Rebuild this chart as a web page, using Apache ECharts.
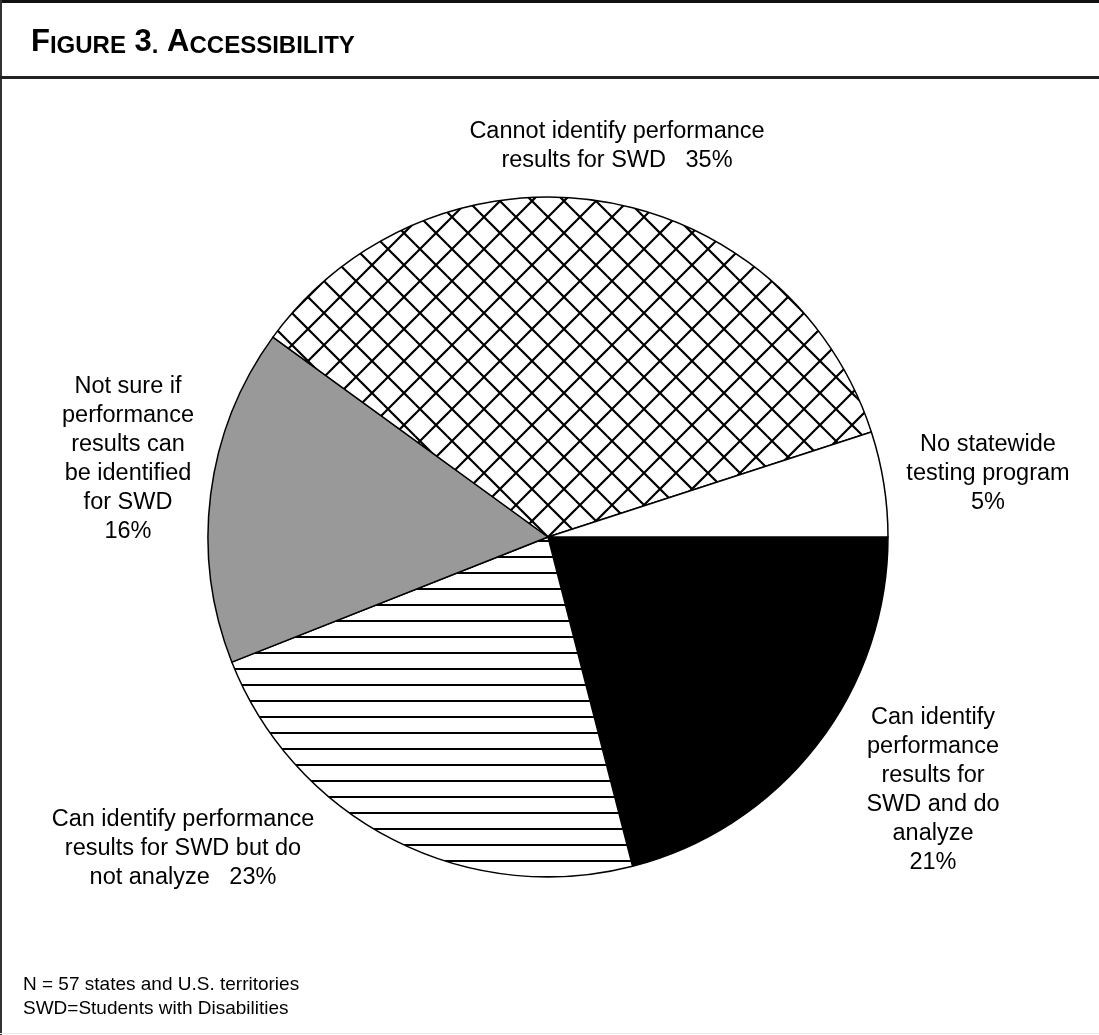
<!DOCTYPE html>
<html>
<head>
<meta charset="utf-8">
<script src="https://cdn.jsdelivr.net/npm/echarts@6/dist/echarts.min.js"></script>
<style>
html,body{margin:0;padding:0;background:#fff;}
#chart{width:1099px;height:1035px;}
</style>
</head>
<body>
<div id="chart"></div>
<script>
// ---- data ----
var categories = [
  'Can identify performance results for SWD and do analyze',
  'Can identify performance results for SWD but do not analyze',
  'Not sure if performance results can be identified for SWD',
  'Cannot identify performance results for SWD',
  'No statewide testing program'
];
var values = [21, 23, 16, 35, 5];
var labelTexts = [
  'Can identify\nperformance\nresults for\nSWD and do\nanalyze\n21%',
  'Can identify performance\nresults for SWD but do\nnot analyze   23%',
  'Not sure if\nperformance\nresults can\nbe identified\nfor SWD\n16%',
  'Cannot identify performance\nresults for SWD   35%',
  'No statewide\ntesting program\n5%'
];
var titleText = 'Figure 3. Accessibility';
var footnotes = ['N = 57 states and U.S. territories', 'SWD=Students with Disabilities'];

// ---- patterns ----
function crossHatch() {
  var s = 32, c = document.createElement('canvas');
  c.width = s; c.height = s;
  var g = c.getContext('2d');
  g.fillStyle = '#fff'; g.fillRect(0, 0, s, s);
  g.strokeStyle = '#000'; g.lineWidth = 2.2;
  for (var k = -2; k <= 2; k++) {
    g.beginPath(); g.moveTo(-10, -10 - 11 + k * s); g.lineTo(s + 10, s + 10 - 11 + k * s); g.stroke();
    g.beginPath(); g.moveTo(-10, 10 + 29 + k * s); g.lineTo(s + 10, -s - 10 + 29 + k * s); g.stroke();
  }
  return c;
}
function hStripes() {
  var s = 16, c = document.createElement('canvas');
  c.width = s; c.height = s;
  var g = c.getContext('2d');
  g.fillStyle = '#fff'; g.fillRect(0, 0, s, s);
  g.fillStyle = '#000'; g.fillRect(0, 12, s, 2);
  return c;
}
var fills = [
  '#000000',
  { image: hStripes(), repeat: 'repeat' },
  '#999999',
  { image: crossHatch(), repeat: 'repeat' },
  '#ffffff'
];
var labelPos = [
  [933, 790], [183, 849], [128, 459], [617, 146], [988, 474]
];

var chart = echarts.init(document.getElementById('chart'), null, { renderer: 'canvas' });

function smallCaps(str) {
  return str.split(' ').map(function (w) {
    var first = w.charAt(0).toUpperCase();
    var rest = w.slice(1).toUpperCase();
    return '{b|' + first + '}' + (rest ? '{s|' + rest + '}' : '');
  }).join('{b| }');
}

var option = {
  backgroundColor: '#ffffff',
  animation: false,
  title: {
    text: smallCaps(titleText),
    left: 26,
    top: 17,
    textStyle: {
      rich: {
        b: { fontFamily: 'Liberation Sans, Arial, sans-serif', fontWeight: 'bold', fontSize: 31, color: '#000', lineHeight: 36, verticalAlign: 'bottom' },
        s: { fontFamily: 'Liberation Sans, Arial, sans-serif', fontWeight: 'bold', fontSize: 24, color: '#000', lineHeight: 36, verticalAlign: 'bottom' }
      }
    }
  },
  graphic: [
    { type: 'rect', shape: { x: 0, y: 0, width: 1099, height: 3 }, style: { fill: '#111' } },
    { type: 'rect', shape: { x: 0, y: 0, width: 2, height: 1035 }, style: { fill: '#333' } },
    { type: 'rect', shape: { x: 0, y: 76, width: 1099, height: 3 }, style: { fill: '#222' } },
    { type: 'rect', shape: { x: 0, y: 1033, width: 1099, height: 1 }, style: { fill: '#e8e8e8' } },
    { type: 'text', left: 23, top: 973, style: { text: footnotes.join('\n'), font: '19px "Liberation Sans", Arial, sans-serif', fill: '#000', lineHeight: 24 } }
  ],
  series: [{
    type: 'pie',
    center: [548, 537],
    radius: 340,
    startAngle: 0,
    clockwise: true,
    silent: true,
    avoidLabelOverlap: false,
    itemStyle: { borderColor: '#000', borderWidth: 1.5 },
    label: {
      show: true,
      position: 'outside',
      fontFamily: 'Liberation Sans, Arial, sans-serif',
      fontSize: 23.5,
      lineHeight: 29,
      color: '#000',
      align: 'center',
      formatter: function (p) { return labelTexts[p.dataIndex]; }
    },
    labelLine: { show: false },
    labelLayout: function (p) {
      var pos = labelPos[p.dataIndex];
      return { x: pos[0], y: pos[1], align: 'center', verticalAlign: 'middle' };
    },
    emphasis: { disabled: true },
    data: categories.map(function (c, i) {
      return { name: c, value: values[i], itemStyle: { color: fills[i] } };
    })
  }]
};
chart.setOption(option);
</script>
</body>
</html>
